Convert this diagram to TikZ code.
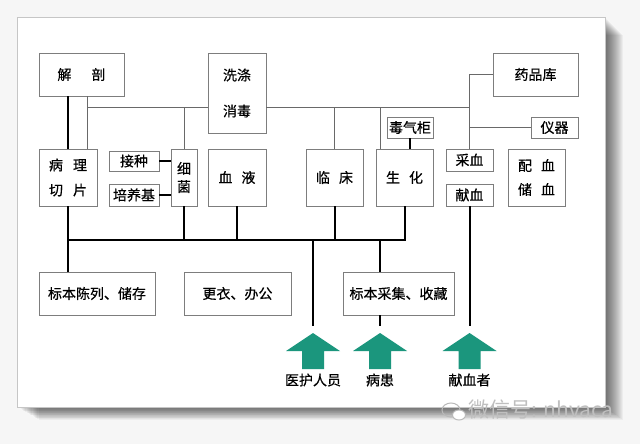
\documentclass[tikz,border=0pt]{standalone}
\usepackage{fontspec}
\newfontfamily\cjk{Noto Sans CJK SC}[FakeBold=0.5]
\newfontfamily\cjkmark{Noto Sans CJK SC}
\usetikzlibrary{calc}
\definecolor{boxgray}{RGB}{125,125,125}
\definecolor{linegray}{RGB}{105,105,105}
\definecolor{flowgreen}{RGB}{27,150,125}
\definecolor{pagegray}{RGB}{246,246,246}

\tikzset{
  room/.style 2 args={draw=boxgray, fill=white, line width=0.8pt, inner sep=0pt,
    minimum width=#1, minimum height=#2, align=center},
  pipe/.style={draw=linegray, line width=0.9pt},
  duct/.style={draw=black, line width=2pt},
  upflow/.pic={\fill[flowgreen] (0,0) -- (27,18) -- (11,18) -- (11,36) -- (-11,36) -- (-11,18) -- (-27,18) -- cycle;}
}

\begin{document}
\begin{tikzpicture}[x=1pt, y=-1pt, font=\cjk\fontsize{14}{16}\selectfont]
  \useasboundingbox (0,0) rectangle (640,444);
  % page and card
  \fill[pagegray] (0,0) rectangle (640,444);
  \foreach \i in {1,...,18}
    \fill[black, opacity=0.04] (17+1.2*\i,17+\i) rectangle (605+\i,407+0.7*\i);
  \filldraw[fill=white, draw=gray!45, line width=0.6pt] (17,17) rectangle (605,407);

  % rooms, top row
  \node[room={85}{43}] (jiepou) at (81.5,74.5) {解\hspace{20pt}剖};
  \node[room={58}{80}] (xidi) at (237,93) {洗涤\\[20pt]消毒};
  \node[room={85}{43}] (yaopin) at (535.5,74.5) {药品库};
  \node[room={47}{21}] (yiqi) at (554.5,127.5) {仪器};
  \node[room={46}{21}] (duqigui) at (410,127.5) {毒气柜};

  % rooms, middle row
  \node[room={58}{57}] (bingli) at (68,177.5) {病\hspace{10pt}理\\[9pt]切\hspace{10pt}片};
  \node[room={50}{20}] (jiezhong) at (134,161) {接种};
  \node[room={50}{22}] (peiyangji) at (134,195) {培养基};
  \node[room={26}{57}] (xijun) at (184,177.5) {细\\[2pt]菌};
  \node[room={58}{57}] (xueye) at (237,177.5) {血\hspace{9pt}液};
  \node[room={57}{57}] (linchuang) at (334.5,177.5) {临\hspace{9pt}床};
  \node[room={57}{57}] (shenghua) at (404.5,177.5) {生\hspace{9pt}化};
  \node[room={47}{22}] (caixue) at (469.5,160) {采血};
  \node[room={47}{22}] (xianxue) at (469.5,195) {献血};
  \node[room={57}{57}] (peixue) at (536.5,177.5) {配\hspace{9pt}血\\[8pt]储\hspace{9pt}血};

  % rooms, bottom row
  \node[room={116}{43}] (chenlie) at (97,293.5) {标本陈列、储存};
  \node[room={107}{43}] (gengyi) at (237.5,293.5) {更衣、办公};
  \node[room={111}{43}] (caiji) at (398.5,293.5) {标本采集、收藏};

  % entrances
  \coordinate (yihu) at (313,333);
  \coordinate (bingren) at (380,333);
  \coordinate (xianxuezhe) at (469.5,333);
  \pic at (yihu) {upflow};
  \pic at (bingren) {upflow};
  \pic at (xianxuezhe) {upflow};
  \node (yihulabel) at (313,380) {医护人员};
  \node (bingrenlabel) at (380,380) {病患};
  \node (xianxuelabel) at (469.5,380) {献血者};

  % clean corridor (thin)
  \coordinate (jl) at (87,107);
  \coordinate (sh) at ([xshift=5pt]shenghua.north west);
  \draw[pipe] (jiepou.south -| jl) -- (bingli.north -| jl);
  \draw[pipe] (jl) -- (xidi.west |- jl);
  \draw[pipe] (xidi.east |- jl) -- (caixue.north |- jl);
  \draw[pipe] (xijun.north |- jl) -- (xijun.north);
  \draw[pipe] (linchuang.north |- jl) -- (linchuang.north);
  \draw[pipe] (sh |- jl) -- (sh);
  \draw[pipe] (caixue.north |- yaopin.west) -- (caixue.north);
  \draw[pipe] (caixue.north |- yaopin.west) -- (yaopin.west);
  \draw[pipe] (caixue.north |- yiqi.west) -- (yiqi.west);

  % work corridor (thick)
  \coordinate (bus) at (0,240);
  \draw[duct] (bingli.north |- jiepou.south) -- (bingli.north);
  \draw[duct] (jiezhong.east) -- (jiezhong.east -| xijun.west);
  \draw[duct] (peiyangji.east) -- (peiyangji.east -| xijun.west);
  \draw[duct] (duqigui.south) -- (duqigui.south |- shenghua.north);
  \draw[duct] (bingli.south) -- (bingli.south |- chenlie.north);
  \draw[duct, line cap=rect] (bingli.south |- bus) -- (shenghua.south |- bus);
  \foreach \n in {xijun,xueye,linchuang,shenghua}
    \draw[duct] (\n.south) -- (\n.south |- bus);
  \draw[duct] (yihu |- bus) -- ([yshift=7pt]yihu);
  \draw[duct] (bingren |- bus) -- (bingren |- caiji.north);
  \draw[duct] (bingren |- caiji.south) -- ([yshift=7pt]bingren);
  \draw[duct] (xianxue.south) -- ([yshift=7pt]xianxuezhe);

  % watermark
  \draw[gray!55, line width=1pt] (451,410) ellipse (9 and 7);
  \draw[gray!55, fill=white, line width=1pt] (459,415) ellipse (6.5 and 5);
  \node[text=gray!50, font=\cjkmark\fontsize{21}{21}\selectfont, anchor=west] (wm) at (465,410) {微信号: nhvaca};
\end{tikzpicture}
\end{document}
